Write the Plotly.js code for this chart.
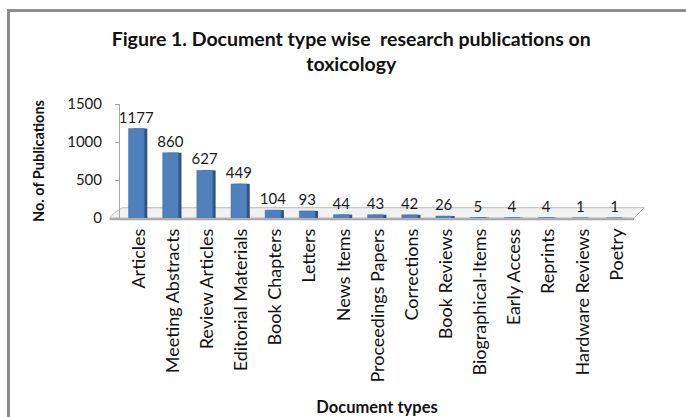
<!DOCTYPE html>
<html><head><meta charset="utf-8">
<script src="https://cdn.plot.ly/plotly-3.0.1.min.js"></script>
<style>
html,body{margin:0;padding:0;background:#fff;}
#wrap{position:relative;width:686px;height:417px;overflow:hidden;}
#frame{position:absolute;left:7px;top:9px;width:700px;height:420px;border-left:3px solid #8c8c8c;border-top:3px solid #8c8c8c;pointer-events:none;z-index:5;}
#chart{position:absolute;left:0;top:0;width:686px;height:417px;}
</style></head>
<body><div id="wrap"><div id="chart"></div><div id="frame"></div></div>
<script>
const categories = ["Articles","Meeting Abstracts","Review Articles","Editorial Materials","Book Chapters","Letters","News Items","Proceedings Papers","Corrections","Book Reviews","Biographical-Items","Early Access","Reprints","Hardware Reviews","Poetry"];
const publications = [1177,860,627,449,104,93,44,43,42,26,5,4,4,1,1];
const yTicks = [0,500,1000,1500];

const font = "Lato, 'Open Sans', sans-serif";
const side = {
  type:'bar', x:categories, y:publications, width:0.4, offset:-0.15,
  marker:{color:'#2f5587'}, hoverinfo:'skip', showlegend:false
};
const front = {
  type:'bar', x:categories, y:publications, width:0.46, offset:-0.3,
  marker:{color:'#4f81bd', line:{color:'#4472a8', width:0.5}},
  text:publications.map(String), textposition:'outside', cliponaxis:false, constraintext:'none',
  textfont:{family:font, size:15, color:'#1a1a1a'}, showlegend:false
};
const layout = {
  width:686, height:417,
  margin:{l:120, r:52, t:104, b:199},
  paper_bgcolor:'#fff', plot_bgcolor:'rgba(0,0,0,0)',
  barmode:'overlay',
  title:{text:'<b>Figure 1. Document type wise  research publications on<br>toxicology</b>',
    font:{family:font, size:19.5, color:'#111'}, x:0.512, xanchor:'center', y:0.89, yanchor:'top'},
  xaxis:{type:'category', tickangle:-90, showgrid:false, showline:false, ticks:'',
    tickfont:{family:font, size:18, color:'#111'}, range:[-0.55,14.5], ticklabelstandoff:6,
    title:{text:'<b>Document types</b>', font:{family:font, size:16.5, color:'#111'}, standoff:22}},
  yaxis:{range:[0,1500], tickvals:yTicks, showgrid:false, zeroline:false,
    showline:true, linecolor:'#a6a6a6', linewidth:1, ticks:'outside', ticklen:4, tickcolor:'#a6a6a6',
    tickfont:{family:font, size:15, color:'#1a1a1a'}, ticklabelstandoff:10,
    title:{text:'<b>No. of Publications</b>', font:{family:font, size:14.5, color:'#111'}, standoff:19}},
  shapes:[
    {type:'path', xref:'paper', yref:'paper',
     path:'M -0.01 0.05 L 0.005 0.09 L 1.02 0.09 L 1.0 0 L -0.02 0 Z',
     fillcolor:'#f2f2f2', line:{color:'#b8b8b8', width:1}, layer:'below'},
    {type:'line', xref:'paper', yref:'paper', x0:-0.02, x1:1.0, y0:-0.01, y1:-0.01, line:{color:'#a6a6a6', width:2}}
  ]
};
Plotly.newPlot('chart',[side,front],layout,{displayModeBar:false, staticPlot:true});
</script></body></html>
